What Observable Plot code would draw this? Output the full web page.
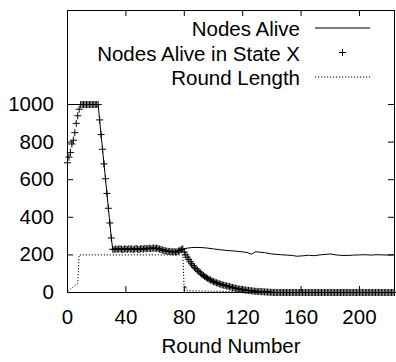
<!DOCTYPE html>
<html><head><meta charset="utf-8">
<script src="https://cdn.jsdelivr.net/npm/d3@7"></script>
<script src="https://cdn.jsdelivr.net/npm/@observablehq/plot@0.6"></script>
<style>body{margin:0;background:#fff}</style>
</head><body><div id="chart"></div>
<script>
const seriesNames = ["Nodes Alive", "Nodes Alive in State X", "Round Length"];
const xLabel = "Round Number";
const xTicks = [0, 40, 80, 120, 160, 200];
const yTicks = [0, 200, 400, 600, 800, 1000];

// Nodes Alive in State X, one value per round (round = index 0..224)
const stateX = [
  690, 720, 745, 790, 810, 850, 900, 940, 975,
  1000, 1000, 1000, 1000, 1000, 1000, 1000, 1000, 1000, 1000, 1000, 1000, 1000,
  918, 840, 762, 684, 605, 527, 448, 370, 290, 230,
  228, 232, 229, 231, 233, 230, 228, 232, 231,
  229, 233, 230, 232, 228, 231, 234, 230, 229, 232,
  233, 231, 235, 232, 234, 236, 233, 235, 237, 234,
  236, 233, 231, 229, 226, 224, 222, 220, 218, 219,
  217, 216, 218, 215, 217, 220, 224, 228, 232,
  215, 200, 188, 176, 164, 153, 143, 134, 126, 118, 111, 104, 97, 91, 85, 80, 75, 70, 66, 62, 58,
  55, 52, 49, 46, 44, 41, 39, 37, 35, 33, 31, 29, 27, 25, 23, 21, 19, 18, 17, 15,
  14, 13, 12, 11, 10, 9, 8, 7, 6, 6, 5, 5, 4, 4, 3, 3, 2, 2, 1, 1,
  0, 0, 0, 0, 0, 0, 0, 0, 0, 0, 0, 0, 0, 0, 0, 0, 0, 0, 0, 0, 0,
  0, 0, 0, 0, 0, 0, 0, 0, 0, 0, 0, 0, 0, 0, 0, 0, 0, 0, 0, 0, 0,
  0, 0, 0, 0, 0, 0, 0, 0, 0, 0, 0, 0, 0, 0, 0, 0, 0, 0, 0, 0, 0,
  0, 0, 0, 0, 0, 0, 0, 0, 0, 0, 0, 0, 0, 0, 0, 0, 0, 0, 0, 0, 0
];

// Nodes Alive (solid line)
const aliveRounds = [0, 21, 22, 23, 24, 25, 26, 27, 28, 29, 30, 31, 35, 40, 45, 50, 55, 60, 65, 70, 75, 79,
  82, 85, 88, 92, 96, 100, 105, 110, 115, 120, 123, 126, 129, 132, 135, 140, 146, 150, 154, 157,
  161, 165, 169, 173, 177, 180, 184, 188, 192, 196, 200, 204, 208, 212, 216, 220, 224];
const aliveValues = [1000, 1000, 918, 840, 762, 684, 605, 527, 448, 370, 290, 230, 231, 230, 229, 231, 234, 235, 228, 220, 219, 230,
  236, 239, 240, 239, 236, 232, 227, 223, 220, 216, 213, 204, 217, 214, 212, 205, 201, 199, 197, 193,
  195, 198, 196, 200, 203, 205, 200, 197, 197, 199, 200, 201, 199, 201, 200, 199, 201];

// Round Length (dotted line)
const lengthRounds = [0, 1, 2, 3, 4, 5, 6, 7, 8, 79, 80, 81, 82, 90, 100, 110, 120, 125, 130, 224];
const lengthValues = [8, 12, 18, 22, 30, 38, 42, 48, 200, 200, 5, 35, 9, 8, 7, 5, 3, 1, 0, 0];

const W = 396, H = 362, mL = 67, mR = 2, mT = 10, mB = 70;
const FW = W - mL - mR, FH = H - mT - mB;
const FONT = "Liberation Sans, Arial, Helvetica, sans-serif";

const stateData = stateX.map((v, i) => ({round: i, value: v}));
const aliveData = aliveRounds.map((r, i) => ({round: r, value: aliveValues[i]}));
const lengthData = lengthRounds.map((r, i) => ({round: r, value: lengthValues[i]}));

const svg = Plot.plot({
  width: W, height: H,
  marginLeft: mL, marginRight: mR, marginTop: mT, marginBottom: mB,
  style: {fontFamily: FONT, fontSize: "20.5px", color: "black", background: "white"},
  x: {domain: [0, 224], axis: null},
  y: {domain: [0, 1500], axis: null},
  marks: [
    Plot.line(lengthData, {x: "round", y: "value", stroke: "black", strokeWidth: 1, strokeDasharray: "1.2,1.8", strokeLinecap: "butt"}),
    Plot.line(aliveData, {x: "round", y: "value", stroke: "black", strokeWidth: 1}),
    Plot.dot(stateData, {x: "round", y: "value", symbol: "plus", r: 2.4, stroke: "black", strokeWidth: 1}),
    Plot.frame({stroke: "black"}),
    Plot.tickX(xTicks, {x: d => d, insetTop: FH - 6, stroke: "black"}),
    Plot.tickX(xTicks, {x: d => d, insetBottom: FH - 6, stroke: "black"}),
    Plot.tickY(yTicks, {y: d => d, insetRight: FW - 6, stroke: "black"}),
    Plot.tickY(yTicks, {y: d => d, insetLeft: FW - 6, stroke: "black"}),
    Plot.text(xTicks, {x: d => d, text: d => String(d), frameAnchor: "bottom", dy: 16.5, lineAnchor: "top", fill: "black"}),
    Plot.text(yTicks, {y: d => d, text: d => String(d), frameAnchor: "left", dx: -13.7, textAnchor: "end", fill: "black"}),
    Plot.text([xLabel], {text: d => d, frameAnchor: "bottom", dy: 60, fill: "black"})
  ]
});

// Legend (gnuplot-style, top right inside the frame)
const g = d3.select(svg).append("g").attr("font-family", FONT).attr("font-size", "20.5px");
const baselines = [36, 60.5, 85];
const rowMid = [28, 52.5, 77];
seriesNames.forEach((name, i) => {
  g.append("text").attr("x", 300).attr("y", baselines[i]).attr("text-anchor", "end").attr("fill", "black").text(name);
});
g.append("line").attr("x1", 315).attr("x2", 370).attr("y1", rowMid[0]).attr("y2", rowMid[0]).attr("stroke", "black");
g.append("path").attr("d", d3.symbol(d3.symbolPlus, Math.PI * 2.4 * 2.4)()).attr("transform", `translate(342.5,${rowMid[1]})`).attr("fill", "none").attr("stroke", "black");
g.append("line").attr("x1", 315).attr("x2", 370).attr("y1", rowMid[2]).attr("y2", rowMid[2]).attr("stroke", "black").attr("stroke-dasharray", "1.2,1.8");

document.getElementById("chart").appendChild(svg);
</script>
</body></html>
